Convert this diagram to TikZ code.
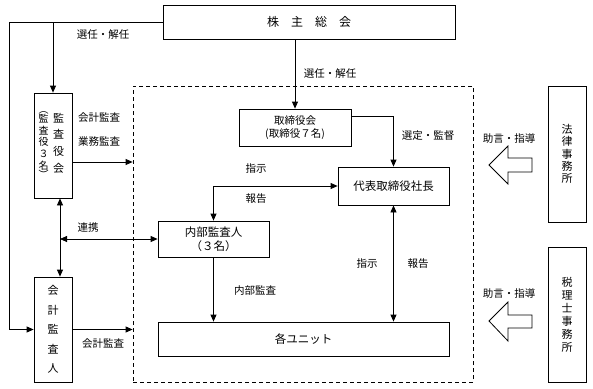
\documentclass[tikz,border=0pt]{standalone}
\usepackage{fontspec}
\setmainfont{Noto Sans CJK JP}
\usetikzlibrary{arrows.meta}
\begin{document}
\begin{tikzpicture}[x=1pt,y=-1pt,
  box/.style={draw, line width=0.8pt, inner sep=0pt, align=center},
  arr/.style={-{Triangle[length=7pt,width=6pt]}, line width=0.8pt},
  darr/.style={{Triangle[length=7pt,width=6pt]}-{Triangle[length=7pt,width=6pt]}, line width=0.8pt},
  lbl/.style={font=\fontsize{10.5}{12}\selectfont, inner sep=0pt},
  blk/.style={draw, line width=0.8pt, fill=white}]
\useasboundingbox (0,0) rectangle (593,388);
% boxes
\node[box, minimum width=292pt, minimum height=34pt, font=\fontsize{12}{14}\selectfont] (sh) at (309,22) {株\hspace{12pt}主\hspace{12pt}総\hspace{12pt}会};
\node[box, minimum width=38pt, minimum height=105pt] (kansa) at (53,145.5) {};
\node[inner sep=0pt, align=center, font=\fontsize{11}{16.7}\selectfont] (kansaR) at (58.5,143) {監\\査\\役\\会};
\node[inner sep=0pt, align=center, font=\fontsize{10}{11.8}\selectfont] (kansaL) at (43.5,145) {︵\\[-3pt]監\\査\\役\\３\\名\\[-3pt]︶};
\node[box, minimum width=38pt, minimum height=105pt, font=\fontsize{11}{19.5}\selectfont] (kaikei) at (53,329.5) {会\\計\\監\\査\\人};
\node[draw, dashed, dash pattern=on 4pt off 3pt, line width=0.8pt, minimum width=340pt, minimum height=296pt, inner sep=0pt] (dash) at (303,234) {};
\node[box, minimum width=112pt, minimum height=37pt, font=\fontsize{10.5}{13}\selectfont] (tori) at (295,127.5) {取締役会\\(取締役７名)};
\node[box, minimum width=111pt, minimum height=38pt, font=\fontsize{11.5}{14}\selectfont] (ceo) at (393.5,186) {代表取締役社長};
\node[box, minimum width=111pt, minimum height=36pt, font=\fontsize{11.5}{14}\selectfont] (naibu) at (213.5,239) {内部監査人\\（３名）};
\node[box, minimum width=291pt, minimum height=34pt, font=\fontsize{11.5}{14}\selectfont] (unit) at (303.5,339) {各ユニット};
\node[box, minimum width=38pt, minimum height=136pt, font=\fontsize{11}{12.2}\selectfont] (law) at (567,154) {法\\律\\事\\務\\所};
\node[box, minimum width=38pt, minimum height=135pt, font=\fontsize{11}{13}\selectfont] (tax) at (567,314.5) {税\\理\\士\\事\\務\\所};
% connectors
\coordinate (lft) at (9,22);
\draw[arr] (sh.west) -- (lft) |- (kaikei.west);
\draw[arr] (kansa.north |- sh.west) -- (kansa.north);
\draw[arr] (tori.north |- sh.south) -- (tori.north);
\draw[arr] ([yshift=11.5pt]tori.east) -| (ceo.north);
\coordinate (ke) at ([yshift=-16.5pt]kansa.east);
\draw[arr] (ke) -- (dash.west |- ke);
\draw[arr] (kaikei.east) -- (dash.west |- kaikei.east);
\coordinate (v1) at ([xshift=7pt]kansa.south);
\coordinate (v2) at ([xshift=7pt]kaikei.north);
\draw[darr] (v1) -- (v2);
\draw[darr] (v1 |- naibu.west) -- (naibu.west);
\draw[darr] (ceo.west) -| (naibu.north);
\draw[arr] (naibu.south) -- (naibu.south |- unit.north);
\draw[darr] (ceo.south) -- (ceo.south |- unit.north);
% block arrows
\draw[blk] (489,165) -- (508,146) -- (508,158) -- (532,158) -- (532,172) -- (508,172) -- (508,184) -- cycle;
\draw[blk] (489,321) -- (508,302) -- (508,315) -- (532,315) -- (532,328) -- (508,328) -- (508,341) -- cycle;
% labels
\node[lbl] (l1) at (103,35) {選任・解任};
\node[lbl] (l2) at (330,74) {選任・解任};
\node[lbl] (l3) at (99,118) {会計監査};
\node[lbl] (l4) at (99,142) {業務監査};
\node[lbl] (l5) at (428,136) {選定・監督};
\node[lbl] (l6) at (256,169) {指示};
\node[lbl] (l7) at (256,199) {報告};
\node[lbl] (l8) at (88,228) {連携};
\node[lbl] (l9) at (255,291) {内部監査};
\node[lbl] (l10) at (367,264) {指示};
\node[lbl] (l11) at (418,264) {報告};
\node[lbl] (l12) at (103,344) {会計監査};
\node[lbl] (l13) at (509,139) {助言・指導};
\node[lbl] (l14) at (509,294) {助言・指導};
\end{tikzpicture}
\end{document}
